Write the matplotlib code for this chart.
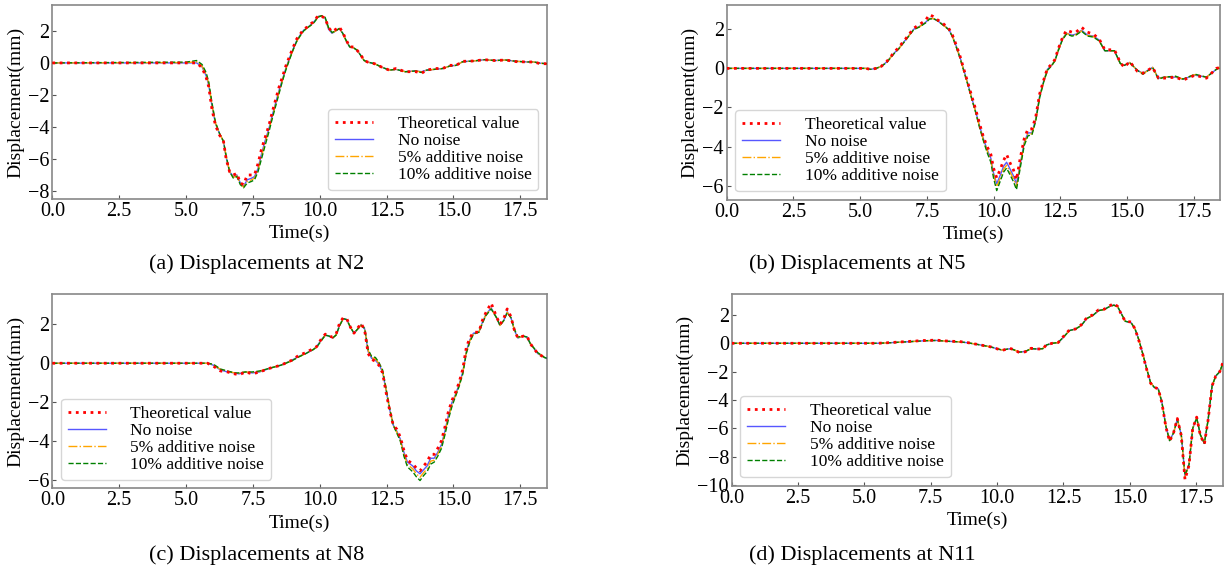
import numpy as np
import matplotlib
matplotlib.use("Agg")
import matplotlib.pyplot as plt

plt.rcParams['font.family'] = ['Liberation Serif', 'DejaVu Serif']
plt.rcParams['xtick.direction'] = 'in'
plt.rcParams['ytick.direction'] = 'in'

# ---- N2 ----
t_n2 = [0.0, 5.0, 5.4, 5.6, 5.75, 5.85, 5.97, 6.1, 6.25, 6.4,
        6.5, 6.63, 6.77, 6.9, 7.03, 7.15, 7.29, 7.45, 7.56, 7.69,
        7.82, 7.95, 8.1, 8.22, 8.35, 8.48, 8.61, 8.74, 8.88, 9.0,
        9.14, 9.27, 9.4, 9.54, 9.67, 9.8, 9.93, 10.07, 10.2, 10.33,
        10.46, 10.6, 10.73, 10.86, 11.0, 11.12, 11.26, 11.39, 11.52, 11.66,
        11.8, 12.05, 12.3, 12.6, 12.85, 13.2, 13.6, 13.8, 14.0, 14.3,
        14.6, 14.85, 15.1, 15.35, 15.75, 16.15, 16.55, 16.95, 17.35, 17.75,
        18.0, 18.25, 18.5]
theo_n2 = [0.0, 0.0, 0.0, -0.3, -0.9, -1.5, -2.9, -3.9, -4.5, -4.9,
           -6.0, -6.8, -7.0, -6.9, -7.5, -7.6, -7.0, -7.0, -7.0, -6.3,
           -5.4, -4.7, -3.9, -3.1, -2.3, -1.5, -0.85, -0.15, 0.45, 0.95,
           1.5, 1.8, 2.1, 2.25, 2.45, 2.6, 2.95, 2.9, 2.8, 2.2,
           1.95, 2.1, 2.25, 1.9, 1.4, 1.0, 1.0, 0.8, 0.55, 0.15,
           0.05, -0.05, -0.25, -0.45, -0.35, -0.55, -0.55, -0.65, -0.45, -0.35,
           -0.35, -0.15, -0.15, 0.1, 0.12, 0.2, 0.15, 0.18, 0.08, 0.06,
           0.06, -0.05, -0.05]
clean_n2 = [0.0, 0.0, 0.0, -0.25, -0.8, -1.4, -2.7, -3.8, -4.4, -4.9,
            -5.9, -6.8, -7.1, -7.0, -7.5, -7.7, -7.3, -7.2, -7.1, -6.6,
            -5.7, -4.9, -4.1, -3.3, -2.5, -1.7, -1.0, -0.3, 0.35, 0.85,
            1.4, 1.75, 2.05, 2.2, 2.4, 2.6, 2.9, 2.95, 2.8, 2.1,
            1.85, 2.0, 2.15, 1.85, 1.35, 1.0, 0.95, 0.8, 0.5, 0.15,
            0.05, -0.05, -0.25, -0.45, -0.4, -0.55, -0.5, -0.55, -0.45, -0.4,
            -0.35, -0.2, -0.15, 0.08, 0.12, 0.2, 0.15, 0.18, 0.1, 0.06,
            0.06, -0.02, -0.05]
n5_n2 = [0.0, 0.02, 0.07, -0.2, -0.7, -1.3, -2.6, -3.75, -4.4, -4.9,
         -5.85, -6.8, -7.15, -7.05, -7.55, -7.75, -7.4, -7.3, -7.2, -6.7,
         -5.85, -5.05, -4.2, -3.4, -2.6, -1.8, -1.05, -0.35, 0.3, 0.8,
         1.35, 1.7, 2.0, 2.2, 2.35, 2.55, 2.88, 2.95, 2.82, 2.15,
         1.88, 2.0, 2.15, 1.85, 1.35, 1.0, 0.95, 0.8, 0.5, 0.15,
         0.05, -0.05, -0.25, -0.45, -0.4, -0.55, -0.5, -0.58, -0.45, -0.4,
         -0.35, -0.2, -0.15, 0.08, 0.12, 0.2, 0.15, 0.18, 0.1, 0.06,
         0.06, -0.02, -0.05]
n10_n2 = [0.0, 0.05, 0.15, -0.1, -0.6, -1.2, -2.5, -3.7, -4.4, -4.9,
          -5.8, -6.8, -7.2, -7.1, -7.6, -7.8, -7.5, -7.4, -7.3, -6.8,
          -6.0, -5.2, -4.3, -3.5, -2.7, -1.9, -1.1, -0.4, 0.25, 0.8,
          1.35, 1.7, 2.0, 2.2, 2.35, 2.55, 2.85, 2.95, 2.85, 2.2,
          1.9, 2.0, 2.15, 1.85, 1.35, 1.0, 0.95, 0.8, 0.5, 0.15,
          0.05, -0.05, -0.25, -0.45, -0.4, -0.55, -0.5, -0.6, -0.45, -0.4,
          -0.35, -0.2, -0.15, 0.08, 0.12, 0.2, 0.15, 0.18, 0.1, 0.06,
          0.06, -0.02, -0.05]

# ---- N5 ----
t_n5 = [0.0, 5.2, 5.4, 5.6, 5.79, 6.0, 6.15, 6.29, 6.44, 6.58,
        6.73, 7.01, 7.23, 7.45, 7.6, 7.74, 7.88, 8.1, 8.32, 8.46,
        8.6, 8.75, 8.9, 9.04, 9.18, 9.33, 9.47, 9.62, 9.76, 9.9,
        10.0, 10.12, 10.27, 10.38, 10.49, 10.64, 10.75, 10.86, 11.0, 11.15,
        11.29, 11.44, 11.58, 11.73, 11.88, 12.02, 12.17, 12.3, 12.44, 12.58,
        12.73, 12.94, 13.09, 13.3, 13.52, 13.74, 13.96, 14.17, 14.53, 14.75,
        14.9, 15.1, 15.39, 15.6, 15.96, 16.18, 16.4, 16.82, 17.1, 17.55,
        17.98, 18.35, 18.5]
theo_n5 = [0.0, 0.0, -0.05, 0.0, 0.1, 0.35, 0.6, 0.85, 1.05, 1.3,
           1.55, 2.05, 2.25, 2.45, 2.75, 2.65, 2.5, 2.3, 2.05, 1.7,
           1.2, 0.6, -0.1, -0.75, -1.4, -2.1, -2.8, -3.5, -4.0, -4.4,
           -5.1, -5.6, -5.1, -4.7, -4.4, -4.9, -5.2, -5.7, -4.6, -3.6,
           -3.1, -3.1, -2.5, -1.3, -0.6, 0.0, 0.2, 0.45, 1.05, 1.55,
           1.95, 1.85, 1.85, 2.1, 1.85, 1.75, 1.5, 0.95, 0.95, 0.3,
           0.05, 0.35, -0.15, -0.25, 0.05, -0.5, -0.5, -0.45, -0.6, -0.35,
           -0.5, 0.0, 0.05]
clean_n5 = [0.0, 0.0, -0.05, 0.0, 0.1, 0.33, 0.58, 0.8, 1.0, 1.25,
            1.5, 2.0, 2.15, 2.35, 2.55, 2.55, 2.45, 2.25, 2.0, 1.65,
            1.15, 0.55, -0.15, -0.8, -1.5, -2.2, -2.9, -3.6, -4.15, -4.6,
            -5.35, -5.9, -5.4, -5.0, -4.8, -5.2, -5.5, -5.9, -4.9, -3.8,
            -3.3, -3.3, -2.6, -1.4, -0.65, -0.05, 0.15, 0.4, 1.0, 1.5,
            1.8, 1.7, 1.75, 1.95, 1.7, 1.65, 1.45, 0.9, 0.9, 0.25,
            0.15, 0.3, -0.1, -0.25, 0.05, -0.5, -0.45, -0.45, -0.55, -0.35,
            -0.45, -0.05, 0.05]
n5_n5 = [0.0, 0.0, -0.05, 0.0, 0.1, 0.32, 0.57, 0.79, 0.99, 1.23,
         1.49, 1.99, 2.13, 2.33, 2.53, 2.55, 2.45, 2.23, 1.99, 1.63,
         1.12, 0.52, -0.18, -0.82, -1.52, -2.22, -2.95, -3.65, -4.2, -4.7,
         -5.45, -6.05, -5.55, -5.15, -4.95, -5.35, -5.65, -6.05, -5.0, -3.85,
         -3.35, -3.35, -2.65, -1.45, -0.68, -0.08, 0.13, 0.39, 0.98, 1.48,
         1.78, 1.68, 1.72, 1.92, 1.68, 1.62, 1.42, 0.9, 0.9, 0.25,
         0.15, 0.3, -0.1, -0.28, 0.05, -0.52, -0.45, -0.42, -0.55, -0.32,
         -0.45, -0.05, 0.05]
n10_n5 = [0.0, 0.0, -0.05, 0.0, 0.1, 0.3, 0.55, 0.78, 0.98, 1.22,
          1.48, 1.98, 2.12, 2.32, 2.52, 2.55, 2.45, 2.22, 1.98, 1.62,
          1.1, 0.5, -0.2, -0.85, -1.55, -2.25, -3.0, -3.7, -4.3, -4.8,
          -5.6, -6.25, -5.7, -5.3, -5.1, -5.5, -5.8, -6.2, -5.1, -3.95,
          -3.45, -3.4, -2.7, -1.5, -0.7, -0.1, 0.12, 0.38, 0.95, 1.45,
          1.75, 1.65, 1.7, 1.9, 1.65, 1.6, 1.4, 0.9, 0.9, 0.25,
          0.15, 0.3, -0.1, -0.3, 0.05, -0.55, -0.45, -0.4, -0.55, -0.3,
          -0.45, -0.05, 0.05]

# ---- N8 ----
t_n8 = [0.0, 5.8, 6.02, 6.29, 6.55, 6.82, 6.98, 7.22, 7.48, 7.75,
        8.15, 8.55, 8.95, 9.21, 9.48, 9.75, 9.88, 10.08, 10.21, 10.35,
        10.48, 10.61, 10.75, 10.88, 11.01, 11.15, 11.28, 11.41, 11.55, 11.68,
        11.81, 11.94, 12.08, 12.21, 12.35, 12.48, 12.61, 12.75, 12.88, 13.01,
        13.15, 13.28, 13.48, 13.61, 13.75, 13.88, 14.01, 14.15, 14.28, 14.41,
        14.55, 14.68, 14.81, 14.95, 15.08, 15.21, 15.35, 15.48, 15.61, 15.75,
        15.95, 16.08, 16.21, 16.41, 16.61, 16.74, 16.88, 17.01, 17.15, 17.28,
        17.41, 17.61, 17.75, 17.88, 18.15, 18.4, 18.5]
theo_n8 = [0.0, 0.0, -0.15, -0.4, -0.45, -0.55, -0.6, -0.45, -0.55, -0.45,
           -0.25, -0.1, 0.15, 0.4, 0.55, 0.75, 0.85, 1.3, 1.5, 1.4,
           1.35, 1.5, 2.1, 2.35, 2.3, 1.85, 1.55, 1.8, 2.05, 1.7,
           0.5, 0.2, 0.1, -0.1, -0.5, -1.5, -2.4, -3.2, -3.4, -3.8,
           -4.5, -5.0, -5.2, -5.4, -5.55, -5.3, -5.1, -4.7, -4.7, -4.4,
           -4.0, -3.3, -2.5, -1.9, -1.5, -1.0, -0.3, 0.8, 1.3, 1.6,
           1.6, 2.2, 2.6, 3.1, 2.4, 2.0, 2.3, 2.8, 2.4, 1.7,
           1.3, 1.4, 1.4, 1.0, 0.5, 0.3, 0.25]
clean_n8 = [0.0, 0.0, -0.1, -0.35, -0.45, -0.5, -0.55, -0.45, -0.5, -0.45,
            -0.25, -0.1, 0.15, 0.35, 0.5, 0.7, 0.85, 1.25, 1.45, 1.4,
            1.3, 1.45, 2.0, 2.3, 2.25, 1.85, 1.55, 1.75, 2.0, 1.75,
            0.6, 0.25, 0.15, -0.05, -0.45, -1.4, -2.35, -3.2, -3.5, -3.9,
            -4.6, -5.1, -5.3, -5.55, -5.7, -5.5, -5.3, -4.9, -4.9, -4.6,
            -4.2, -3.5, -2.7, -2.0, -1.6, -1.1, -0.45, 0.6, 1.2, 1.55,
            1.6, 2.1, 2.5, 2.85, 2.35, 1.95, 2.2, 2.65, 2.35, 1.7,
            1.3, 1.4, 1.35, 1.0, 0.5, 0.3, 0.25]
n5_n8 = [0.0, 0.0, -0.08, -0.32, -0.42, -0.5, -0.52, -0.45, -0.48, -0.42,
         -0.25, -0.1, 0.13, 0.33, 0.5, 0.7, 0.83, 1.22, 1.45, 1.4,
         1.3, 1.45, 1.98, 2.3, 2.25, 1.85, 1.55, 1.75, 1.98, 1.78,
         0.65, 0.3, 0.22, 0.0, -0.4, -1.35, -2.32, -3.2, -3.55, -3.95,
         -4.7, -5.22, -5.45, -5.7, -5.88, -5.65, -5.45, -5.05, -5.0, -4.7,
         -4.3, -3.6, -2.8, -2.1, -1.65, -1.15, -0.5, 0.55, 1.15, 1.52,
         1.6, 2.08, 2.48, 2.82, 2.35, 1.95, 2.2, 2.62, 2.35, 1.72,
         1.32, 1.4, 1.35, 1.0, 0.52, 0.3, 0.25]
n10_n8 = [0.0, 0.0, -0.05, -0.3, -0.4, -0.5, -0.5, -0.45, -0.45, -0.4,
          -0.25, -0.1, 0.12, 0.32, 0.5, 0.7, 0.82, 1.2, 1.45, 1.4,
          1.3, 1.45, 1.95, 2.3, 2.25, 1.85, 1.55, 1.75, 1.95, 1.8,
          0.7, 0.35, 0.3, 0.05, -0.35, -1.3, -2.3, -3.2, -3.6, -4.0,
          -4.8, -5.35, -5.6, -5.85, -6.05, -5.8, -5.6, -5.2, -5.1, -4.8,
          -4.4, -3.7, -2.9, -2.2, -1.7, -1.2, -0.55, 0.5, 1.1, 1.5,
          1.6, 2.05, 2.45, 2.8, 2.35, 1.95, 2.2, 2.6, 2.35, 1.75,
          1.35, 1.4, 1.35, 1.0, 0.55, 0.3, 0.25]

# ---- N11 ----
t_n11 = [0.0, 5.5, 5.98, 6.85, 7.29, 7.72, 8.16, 8.59, 8.88, 9.32,
         9.75, 10.19, 10.48, 10.62, 10.84, 11.06, 11.28, 11.5, 11.72, 11.86,
         12.08, 12.3, 12.51, 12.73, 12.95, 13.17, 13.38, 13.6, 13.82, 14.04,
         14.25, 14.4, 14.54, 14.69, 14.83, 15.05, 15.2, 15.34, 15.49, 15.63,
         15.78, 15.92, 16.07, 16.21, 16.36, 16.5, 16.65, 16.79, 16.94, 17.08,
         17.23, 17.37, 17.52, 17.66, 17.81, 17.95, 18.1, 18.24, 18.39, 18.5]
theo_n11 = [0.0, 0.0, 0.05, 0.15, 0.2, 0.22, 0.15, 0.12, 0.05, -0.1,
            -0.25, -0.5, -0.35, -0.45, -0.65, -0.6, -0.35, -0.4, -0.4, -0.1,
            0.0, 0.05, 0.5, 0.95, 1.0, 1.3, 1.8, 2.0, 2.35, 2.4,
            2.65, 2.8, 2.6, 2.0, 1.55, 1.5, 1.0, 0.2, -0.8, -1.8,
            -2.8, -3.1, -3.2, -4.2, -5.9, -6.9, -6.3, -5.3, -6.5, -9.6,
            -8.6, -6.0, -5.2, -6.5, -7.1, -5.4, -3.0, -2.3, -2.0, -1.4]
clean_n11 = [0.0, 0.0, 0.04, 0.13, 0.18, 0.2, 0.14, 0.1, 0.04, -0.1,
             -0.25, -0.48, -0.38, -0.45, -0.62, -0.58, -0.38, -0.4, -0.38, -0.12,
             0.0, 0.05, 0.45, 0.9, 1.0, 1.25, 1.75, 1.95, 2.3, 2.4,
             2.6, 2.7, 2.6, 2.05, 1.55, 1.45, 1.0, 0.25, -0.75, -1.75,
             -2.75, -3.1, -3.2, -4.15, -5.85, -6.85, -6.3, -5.35, -6.45, -9.35,
             -8.55, -6.0, -5.25, -6.45, -7.05, -5.4, -3.0, -2.3, -2.0, -1.45]
n5_n11 = [0.0, 0.0, 0.04, 0.13, 0.18, 0.2, 0.14, 0.1, 0.04, -0.1,
          -0.25, -0.48, -0.38, -0.45, -0.62, -0.58, -0.38, -0.4, -0.38, -0.12,
          0.0, 0.05, 0.45, 0.9, 1.0, 1.25, 1.75, 1.95, 2.3, 2.38,
          2.6, 2.68, 2.58, 2.05, 1.55, 1.45, 1.0, 0.25, -0.75, -1.75,
          -2.75, -3.1, -3.2, -4.15, -5.85, -6.85, -6.3, -5.35, -6.45, -9.4,
          -8.55, -6.0, -5.25, -6.45, -7.05, -5.4, -3.0, -2.3, -2.0, -1.45]
n10_n11 = [0.0, 0.0, 0.04, 0.13, 0.18, 0.2, 0.14, 0.1, 0.04, -0.1,
           -0.25, -0.48, -0.38, -0.45, -0.62, -0.58, -0.38, -0.4, -0.38, -0.12,
           0.0, 0.05, 0.45, 0.9, 1.0, 1.25, 1.75, 1.95, 2.3, 2.38,
           2.6, 2.68, 2.58, 2.05, 1.55, 1.45, 1.0, 0.25, -0.75, -1.75,
           -2.75, -3.1, -3.2, -4.15, -5.85, -6.85, -6.3, -5.35, -6.45, -9.3,
           -8.55, -6.0, -5.25, -6.45, -7.05, -5.4, -3.0, -2.3, -2.0, -1.45]

labels = ['Theoretical value', 'No noise', '5% additive noise', '10% additive noise']

panels = [
    dict(t=t_n2, ys=[theo_n2, clean_n2, n5_n2, n10_n2], ylim=(-8.5, 3.6),
         yticks=[-8, -6, -4, -2, 0, 2],
         rect=[0.0427, 0.6533, 0.4035, 0.3375], loc='lower right',
         cap='(a) Displacements at N2', cx=0.209, cy=0.540),
    dict(t=t_n5, ys=[theo_n5, clean_n5, n5_n5, n10_n5], ylim=(-6.73, 3.24),
         yticks=[-6, -4, -2, 0, 2],
         rect=[0.5927, 0.6516, 0.4027, 0.3397], loc='lower left',
         cap='(b) Displacements at N5', cx=0.699, cy=0.540),
    dict(t=t_n8, ys=[theo_n8, clean_n8, n5_n8, n10_n8], ylim=(-6.45, 3.57),
         yticks=[-6, -4, -2, 0, 2],
         rect=[0.0427, 0.1493, 0.4035, 0.3385], loc='lower left',
         cap='(c) Displacements at N8', cx=0.209, cy=0.033),
    dict(t=t_n11, ys=[theo_n11, clean_n11, n5_n11, n10_n11], ylim=(-10.05, 3.47),
         yticks=[-10, -8, -6, -4, -2, 0, 2],
         rect=[0.5968, 0.1533, 0.4005, 0.3345], loc='lower left',
         cap='(d) Displacements at N11', cx=0.703, cy=0.033),
]

styles = [
    dict(color='red', linestyle=':', linewidth=2.0, zorder=4),
    dict(color='#3a3aff', linestyle='-', linewidth=1.0, alpha=0.85, zorder=3),
    dict(color='orange', linestyle='-.', linewidth=1.0, zorder=3),
    dict(color='green', linestyle='--', linewidth=1.0, zorder=3),
]

fig = plt.figure(figsize=(12.26, 5.74), dpi=100)

for p in panels:
    ax = fig.add_axes(p['rect'])
    for y, lab, st in zip(p['ys'], labels, styles):
        ax.plot(p['t'], y, label=lab, **st)
    ax.set_xlim(0, 18.5)
    ax.set_ylim(*p['ylim'])
    ax.set_xticks(np.arange(0, 18, 2.5))
    ax.set_yticks(p['yticks'])
    ax.xaxis.set_major_formatter(matplotlib.ticker.FormatStrFormatter('%.1f'))
    ax.tick_params(labelsize=14.5, length=3, color='#555555', pad=2)
    for s in ax.spines.values():
        s.set_color('#888888')
        s.set_linewidth(1.2)
    ax.set_xlabel('Time(s)', fontsize=14, labelpad=3)
    ax.set_ylabel('Displacement(mm)', fontsize=14, labelpad=3)
    ax.legend(loc=p['loc'], fontsize=12.5, labelspacing=0.05, handlelength=2.2,
              handletextpad=1.4, borderpad=0.4)
    fig.text(p['cx'], p['cy'], p['cap'], fontsize=16, ha='center', va='center')

fig.savefig('out.png', dpi=100)
